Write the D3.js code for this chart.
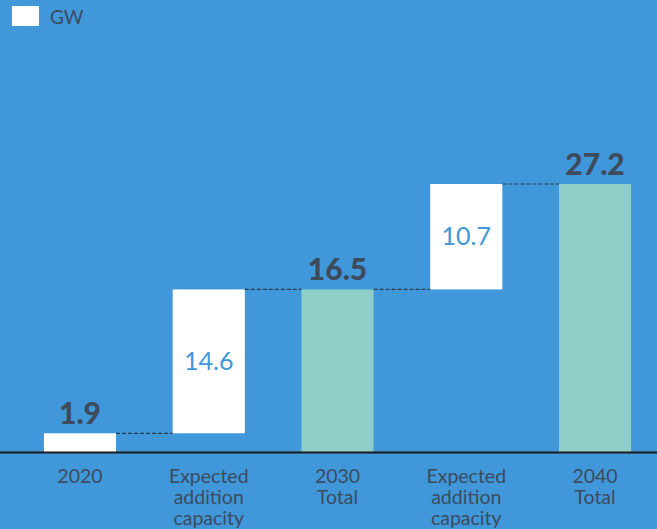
<!DOCTYPE html>
<html><head><meta charset="utf-8">
<script src="https://cdn.jsdelivr.net/npm/d3@7"></script>
<style>body{margin:0;background:#4097d9;}svg{display:block;}</style>
</head><body>
<svg id="c" width="657" height="529"></svg>
<script>
const categories = ["2020", "Expected addition capacity", "2030 Total", "Expected addition capacity", "2040 Total"];
const categoryLines = [["2020"], ["Expected", "addition", "capacity"], ["2030", "Total"], ["Expected", "addition", "capacity"], ["2040", "Total"]];
const values = [1.9, 14.6, 16.5, 10.7, 27.2];
const barTypes = ["total", "add", "total", "add", "total"];
const labels = ["1.9", "14.6", "16.5", "10.7", "27.2"];
const unitLabel = "GW";

const W = 657, H = 529;
const svg = d3.select("#c");
svg.append("rect").attr("width", W).attr("height", H).attr("fill", "#4097d9");

let cum = 0;
const data = values.map((v, i) => {
  let start, end;
  if (barTypes[i] === "add") { start = cum; end = cum + v; cum = end; }
  else { start = 0; end = v; cum = v; }
  return {i, v, start, end, type: barTypes[i], label: labels[i], lines: categoryLines[i]};
});

const x = d3.scaleBand().domain(d3.range(categories.length)).range([15.6, 659.4]).paddingInner(0.44).paddingOuter(0.22);
const y = d3.scaleLinear().domain([0, 27.2]).range([452, 184]);

const font = "Lato, 'Noto Sans', sans-serif";
const dark = "#3d4b5d";

for (let i = 0; i < data.length - 1; i++) {
  const yy = y(data[i].end);
  svg.append("line")
    .attr("x1", x(i) + x.bandwidth()).attr("x2", x(i + 1))
    .attr("y1", yy).attr("y2", yy)
    .attr("stroke", "#2d3b4c").attr("stroke-width", 1.2).attr("stroke-dasharray", "4,2");
}

svg.selectAll("rect.bar").data(data).enter().append("rect")
  .attr("class", "bar")
  .attr("x", d => x(d.i)).attr("width", x.bandwidth())
  .attr("y", d => y(d.end)).attr("height", d => y(d.start) - y(d.end))
  .attr("fill", d => d.type === "add" ? "#ffffff" : (d.i === 0 ? "#ffffff" : "#8ecdc8"));

svg.append("line").attr("x1", 0).attr("x2", W).attr("y1", 452.5).attr("y2", 452.5)
  .attr("stroke", "#1a1a1a").attr("stroke-width", 2);

data.forEach(d => {
  const cx = x(d.i) + x.bandwidth() / 2;
  if (d.type === "add") {
    svg.append("text").attr("x", cx).attr("y", (y(d.start) + y(d.end)) / 2 + 8.5)
      .attr("text-anchor", "middle").attr("font-family", font).attr("font-size", 25)
      .attr("fill", "#4097d9").text(d.label);
  } else {
    svg.append("text").attr("x", cx).attr("y", y(d.end) - 9)
      .attr("text-anchor", "middle").attr("font-family", font).attr("font-size", 30).attr("font-weight", 900)
      .attr("fill", dark).text(d.label);
  }
  d.lines.forEach((ln, k) => {
    svg.append("text").attr("x", cx).attr("y", 483 + k * 21)
      .attr("text-anchor", "middle").attr("font-family", font).attr("font-size", 19.5)
      .attr("fill", dark).text(ln);
  });
});

svg.append("rect").attr("x", 12).attr("y", 6).attr("width", 27).attr("height", 20).attr("fill", "#fff");
svg.append("text").attr("x", 50).attr("y", 24).attr("font-family", font).attr("font-size", 19)
  .attr("fill", dark).text(unitLabel);
</script>
</body></html>
